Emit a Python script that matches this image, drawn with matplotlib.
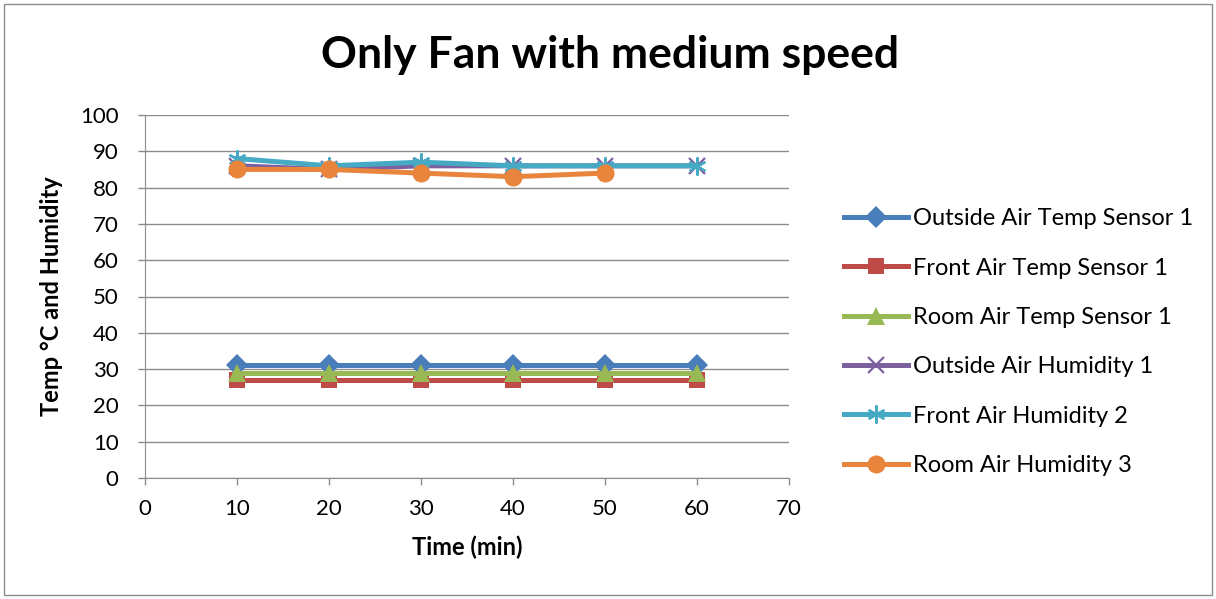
import matplotlib.pyplot as plt
from matplotlib.patches import Rectangle

# minutes
time_min = [10, 20, 30, 40, 50, 60]
time_room_hum = [10, 20, 30, 40, 50]

outside_temp = [31, 31, 31, 31, 31, 31]
front_temp = [27, 27, 27, 27, 27, 27]
room_temp = [29, 29, 29, 29, 29, 29]
outside_hum = [86, 85, 86, 86, 86, 86]
front_hum = [88, 86, 87, 86, 86, 86]
room_hum = [85, 85, 84, 83, 84]

series = [
    ("Outside Air Temp Sensor 1", time_min, outside_temp, "#4A7EBB", "D", 11),
    ("Front Air Temp Sensor 1", time_min, front_temp, "#BE4B48", "s", 11),
    ("Room Air Temp Sensor 1", time_min, room_temp, "#98B954", "^", 13),
    ("Outside Air Humidity 1", time_min, outside_hum, "#7D60A0", "x", 11),
    ("Front Air Humidity 2", time_min, front_hum, "#46AAC5", "*", 13),
    ("Room Air Humidity 3", time_room_hum, room_hum, "#E8843C", "o", 13),
]

plt.rcParams['font.family'] = ['Lato', 'DejaVu Sans']

fig = plt.figure(figsize=(12.16, 5.99), dpi=100)
ax = fig.add_axes([145 / 1216, 1 - 478 / 599, (789 - 145) / 1216, (478 - 115) / 599])

for label, xs, ys, color, marker, ms in series:
    if marker == "*":
        # Excel star: asterisk-like marker
        ax.plot(xs, ys, color=color, linewidth=3.6, marker=(6, 2, 0), markersize=ms,
                markeredgewidth=1.6, markeredgecolor=color, label=label)
    elif marker == "x":
        ax.plot(xs, ys, color=color, linewidth=3.6, marker="x", markersize=ms,
                markeredgewidth=1.6, markeredgecolor=color, label=label)
    else:
        ax.plot(xs, ys, color=color, linewidth=3.6, marker=marker, markersize=ms,
                markeredgewidth=0, label=label)

ax.set_xlim(0, 70)
ax.set_ylim(0, 100)
ax.set_xticks(range(0, 71, 10))
ax.set_yticks(range(0, 101, 10))
ax.yaxis.grid(True, color="#8C8C8C", linewidth=1)
ax.set_axisbelow(True)
for side in ["top", "right"]:
    ax.spines[side].set_visible(False)
ax.spines["left"].set_color("#8C8C8C")
ax.spines["bottom"].set_color("#8C8C8C")
ax.tick_params(axis="both", labelsize=16, color="#8C8C8C", length=5, width=1)
ax.tick_params(axis="y", pad=14)
ax.tick_params(axis="x", pad=10)

ax.set_xlabel("Time (min)", fontsize=17, fontweight="bold", labelpad=12)
ax.set_ylabel("Temp °C and Humidity", fontsize=17, fontweight="bold", labelpad=12)

fig.text(610 / 1216, 1 - 55 / 599, "Only Fan with medium speed", fontsize=32,
         fontweight="bold", ha="center", va="center")

ax.legend(loc="center left", bbox_to_anchor=(823 / 1216, 1 - 342 / 599),
          bbox_transform=fig.transFigure, frameon=False, fontsize=17,
          handlelength=2.7, handletextpad=0.2, labelspacing=1.2)

fig.patches.append(Rectangle((4 / 1216, 4 / 599), 1208 / 1216, 591 / 599,
                             transform=fig.transFigure, fill=False,
                             edgecolor="#8C8C8C", linewidth=1))

fig.savefig("out.png", dpi=100)
